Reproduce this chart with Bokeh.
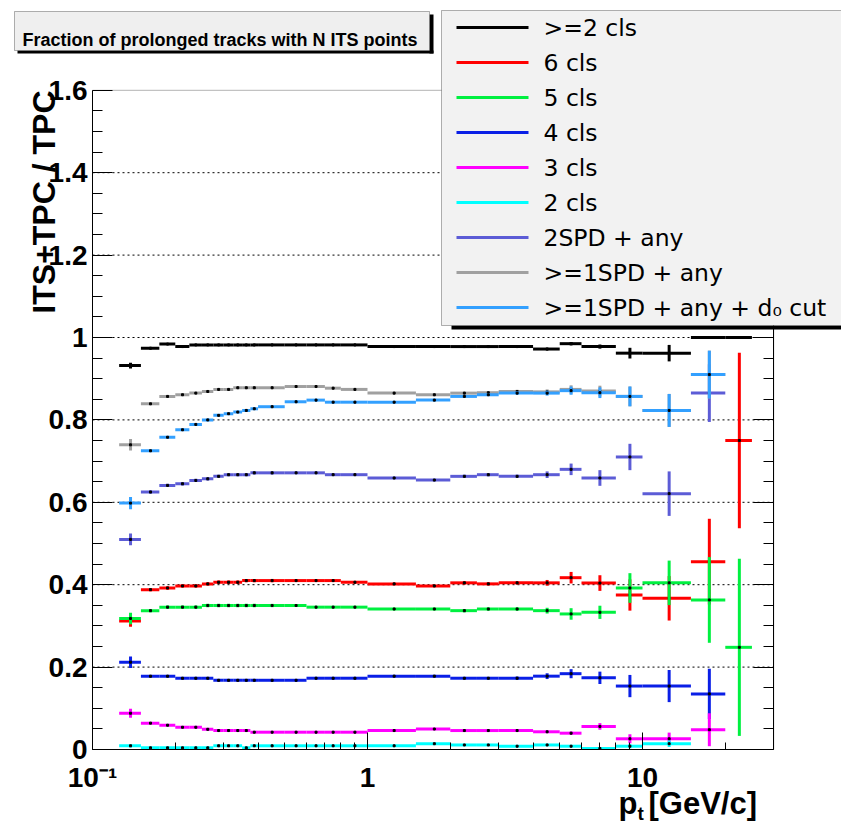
import math
from bokeh.plotting import figure
from bokeh.models import (Range1d, FixedTicker, LinearAxis, LogAxis, ColumnDataSource,
                          BoxAnnotation, Label, Grid, CustomJSTickFormatter)
from bokeh.embed import file_html
from bokeh.resources import INLINE

# ---------------- data ----------------
edges = [0.125, 0.15, 0.175, 0.2, 0.225, 0.25, 0.275, 0.3, 0.325, 0.35, 0.375, 0.4,
         0.5, 0.6, 0.7, 0.8, 1.0, 1.5, 2.0, 2.5, 3.0, 4.0, 5.0, 6.0, 8.0, 10.0, 15.0, 20.0, 25.0]

series_names = [">=2 cls", "6 cls", "5 cls", "4 cls", "3 cls", "2 cls",
                "2SPD + any", ">=1SPD + any", ">=1SPD + any + d\u2080 cut"]
series_colors = ["#000000", "#ff0000", "#00f040", "#0a1fe6", "#ff00ff", "#00ffff",
                 "#5c5cd6", "#a0a0a0", "#33a0ff"]

ge2_val = [0.932, 0.974, 0.984, 0.978, 0.982, 0.982, 0.982, 0.982, 0.982, 0.982, 0.982, 0.982,
           0.982, 0.982, 0.982, 0.982, 0.978, 0.978, 0.978, 0.978, 0.978, 0.972, 0.985, 0.978,
           0.962, 0.962, 1.0, 1.0]
ge2_err = [0.007, 0.002, 0.002, 0.002, 0.002, 0.002, 0.002, 0.002, 0.002, 0.002, 0.002, 0.002,
           0.002, 0.002, 0.002, 0.002, 0.002, 0.002, 0.002, 0.002, 0.002, 0.003, 0.004, 0.005,
           0.013, 0.020, 0.0, 0.0]

c6_val = [0.312, 0.388, 0.392, 0.397, 0.397, 0.402, 0.406, 0.406, 0.406, 0.410, 0.410, 0.410,
          0.410, 0.410, 0.410, 0.406, 0.402, 0.397, 0.4045, 0.402, 0.4045, 0.4045, 0.417, 0.404,
          0.375, 0.367, 0.456, 0.750]
c6_err = [0.014, 0.004, 0.004, 0.004, 0.004, 0.004, 0.004, 0.004, 0.004, 0.004, 0.004, 0.004,
          0.003, 0.003, 0.003, 0.003, 0.003, 0.003, 0.004, 0.004, 0.004, 0.007, 0.014, 0.019,
          0.038, 0.054, 0.104, 0.213]

c5_val = [0.318, 0.337, 0.3455, 0.3455, 0.3455, 0.3495, 0.3495, 0.3495, 0.3495, 0.3495, 0.3495, 0.3495,
          0.3495, 0.3455, 0.3455, 0.3455, 0.341, 0.341, 0.337, 0.341, 0.341, 0.337, 0.329, 0.333,
          0.392, 0.4045, 0.363, 0.248]
c5_err = [0.014, 0.004, 0.004, 0.004, 0.004, 0.004, 0.004, 0.004, 0.004, 0.004, 0.004, 0.004,
          0.003, 0.003, 0.003, 0.003, 0.003, 0.003, 0.004, 0.004, 0.004, 0.007, 0.014, 0.016,
          0.036, 0.054, 0.104, 0.215]

c4_val = [0.212, 0.178, 0.178, 0.173, 0.173, 0.173, 0.168, 0.168, 0.168, 0.168, 0.168, 0.168,
          0.168, 0.173, 0.173, 0.173, 0.178, 0.178, 0.173, 0.173, 0.173, 0.178, 0.184, 0.174,
          0.154, 0.154, 0.135, None]
c4_err = [0.014, 0.003, 0.003, 0.003, 0.003, 0.003, 0.003, 0.003, 0.003, 0.003, 0.003, 0.003,
          0.003, 0.003, 0.003, 0.003, 0.003, 0.003, 0.003, 0.003, 0.004, 0.007, 0.011, 0.015,
          0.027, 0.039, 0.061, None]

c3_val = [0.088, 0.064, 0.059, 0.054, 0.054, 0.049, 0.046, 0.046, 0.046, 0.046, 0.042, 0.042,
          0.042, 0.042, 0.042, 0.042, 0.046, 0.0497, 0.046, 0.046, 0.046, 0.043, 0.0396, 0.056,
          0.026, 0.026, 0.048, None]
c3_err = [0.011, 0.002, 0.002, 0.002, 0.002, 0.002, 0.002, 0.002, 0.002, 0.002, 0.002, 0.002,
          0.002, 0.002, 0.002, 0.002, 0.002, 0.002, 0.002, 0.002, 0.002, 0.003, 0.004, 0.008,
          0.011, 0.015, 0.040, None]

c2_val = [0.009, 0.004, 0.004, 0.004, 0.004, 0.004, 0.009, 0.009, 0.009, 0.004, 0.009, 0.009,
          0.009, 0.009, 0.009, 0.009, 0.009, 0.014, 0.011, 0.011, 0.008, 0.011, 0.008, 0.0025,
          0.008, 0.014, None, None]
c2_err = [0.004, 0.001, 0.001, 0.001, 0.001, 0.001, 0.001, 0.001, 0.001, 0.001, 0.001, 0.001,
          0.001, 0.001, 0.001, 0.001, 0.001, 0.001, 0.001, 0.001, 0.001, 0.002, 0.003, 0.002,
          0.005, 0.008, None, None]

spd2_val = [0.510, 0.625, 0.641, 0.645, 0.653, 0.657, 0.663, 0.667, 0.667, 0.667, 0.6715, 0.6715,
            0.6715, 0.6715, 0.667, 0.667, 0.659, 0.654, 0.663, 0.667, 0.663, 0.667, 0.680, 0.659,
            0.710, 0.621, 0.865, None]
spd2_err = [0.014, 0.004, 0.004, 0.004, 0.004, 0.004, 0.004, 0.004, 0.004, 0.004, 0.004, 0.004,
            0.003, 0.003, 0.003, 0.003, 0.003, 0.003, 0.004, 0.004, 0.004, 0.008, 0.014, 0.019,
            0.032, 0.054, 0.070, None]

spd1_val = [0.7395, 0.839, 0.857, 0.861, 0.865, 0.869, 0.874, 0.874, 0.878, 0.878, 0.878, 0.878,
            0.881, 0.881, 0.877, 0.874, 0.865, 0.861, 0.865, 0.866, 0.869, 0.868, 0.874, 0.870,
            0.857, 0.823, 0.910, None]
spd1_err = [0.014, 0.003, 0.003, 0.003, 0.003, 0.003, 0.003, 0.003, 0.003, 0.003, 0.003, 0.003,
            0.003, 0.003, 0.003, 0.003, 0.003, 0.003, 0.003, 0.003, 0.004, 0.006, 0.010, 0.013,
            0.024, 0.040, 0.058, None]

d0_val = [0.598, 0.725, 0.758, 0.776, 0.789, 0.800, 0.811, 0.815, 0.819, 0.823, 0.827, 0.832,
          0.844, 0.848, 0.843, 0.843, 0.843, 0.848, 0.857, 0.861, 0.865, 0.865, 0.871, 0.866,
          0.857, 0.823, 0.910, None]
d0_err = [0.015, 0.003, 0.003, 0.003, 0.003, 0.003, 0.003, 0.003, 0.003, 0.003, 0.003, 0.003,
          0.003, 0.003, 0.003, 0.003, 0.003, 0.003, 0.003, 0.003, 0.004, 0.006, 0.010, 0.013,
          0.024, 0.040, 0.058, None]

series_vals = [ge2_val, c6_val, c5_val, c4_val, c3_val, c2_val, spd2_val, spd1_val, d0_val]
series_errs = [ge2_err, c6_err, c5_err, c4_err, c3_err, c2_err, spd2_err, spd1_err, d0_err]

x_lim = (0.1, 30)
y_lim = (0, 1.6)
x_major = [0.1, 1, 10]
x_major_labels = ["10\u207b\u00b9", "1", "10"]
x_minor = [0.2, 0.3, 0.4, 0.5, 0.6, 0.7, 0.8, 0.9, 2, 3, 4, 5, 6, 7, 8, 9, 20]
y_major = [0, 0.2, 0.4, 0.6, 0.8, 1, 1.2, 1.4, 1.6]
y_major_labels = ["0", "0.2", "0.4", "0.6", "0.8", "1", "1.2", "1.4", "1.6"]
y_minor = [0.05, 0.1, 0.15, 0.25, 0.3, 0.35, 0.45, 0.5, 0.55, 0.65, 0.7, 0.75, 0.85, 0.9, 0.95,
           1.05, 1.1, 1.15, 1.25, 1.3, 1.35, 1.45, 1.5, 1.55]
y_grid = [0.2, 0.4, 0.6, 0.8, 1, 1.2, 1.4]

title_text = "Fraction of prolonged tracks with N ITS points"
y_title = "ITS+TPC / TPC"


# ---------------- layout helpers (canvas pixel -> data) ----------------
# ROOT pad frame: x 0.1..30 spans px 92..773, y 0..1.6 spans px 749..90
def X(px):
    return 10 ** ((px - 92) / 275.0 - 1)


def Y(py):
    return (749 - py) / 412.0


W, H = 841, 824
p = figure(width=W, height=H, x_axis_type="log", x_axis_location=None, y_axis_location=None,
           x_range=Range1d(X(0), X(W)), y_range=Range1d(Y(H), Y(0)),
           output_backend="svg", toolbar_location=None,
           min_border_left=0, min_border_right=0, min_border_top=0, min_border_bottom=0)
p.background_fill_color = "white"
p.border_fill_color = "white"
p.outline_line_color = None
for r in list(p.center):
    if isinstance(r, Grid):
        r.visible = False

LBL_FONT = "Liberation Sans"

# ---------------- axes (ROOT-style, ticks inside) ----------------
xa = LogAxis(fixed_location=y_lim[0], bounds=x_lim,
             ticker=FixedTicker(ticks=x_major, minor_ticks=x_minor))
xa.major_label_overrides = dict(zip(x_major, x_major_labels))
xa.major_tick_in = 17
xa.major_tick_out = 0
xa.minor_tick_in = 7
xa.minor_tick_out = 0
xa.axis_line_color = "black"
xa.major_label_text_font = LBL_FONT
xa.major_label_text_font_style = "bold"
xa.major_label_text_font_size = "28px"
xa.major_label_text_color = "black"
xa.major_label_standoff = 12
p.add_layout(xa, "below")

ya = LinearAxis(fixed_location=x_lim[0], bounds=y_lim,
                ticker=FixedTicker(ticks=y_major, minor_ticks=y_minor))
ya.major_label_overrides = dict(zip(y_major, y_major_labels))
ya.major_tick_in = 20
ya.major_tick_out = 0
ya.minor_tick_in = 10
ya.minor_tick_out = 0
ya.axis_line_color = "black"
ya.major_label_text_font = LBL_FONT
ya.major_label_text_font_style = "bold"
ya.major_label_text_font_size = "28px"
ya.major_label_text_color = "black"
ya.major_label_standoff = 5
p.add_layout(ya, "left")

ra = LinearAxis(fixed_location=x_lim[1], bounds=y_lim,
                ticker=FixedTicker(ticks=y_major, minor_ticks=y_minor),
                formatter=CustomJSTickFormatter(code="return ''"),
                major_tick_in=20, major_tick_out=0, minor_tick_in=10, minor_tick_out=0,
                axis_line_color="black")
p.add_layout(ra, "right")

# dotted horizontal grid inside the frame
gsrc = ColumnDataSource(dict(x0=[x_lim[0]] * len(y_grid), x1=[x_lim[1]] * len(y_grid), y=y_grid))
p.segment(x0="x0", y0="y", x1="x1", y1="y", source=gsrc, line_color="black",
          line_width=1, line_dash="2 3")

# ---------------- data marks ----------------
for vals, errs, col in zip(series_vals, series_errs, series_colors):
    xl, xr, xc, yy, ylo, yhi = [], [], [], [], [], []
    for i, v in enumerate(vals):
        if v is None:
            continue
        lo, hi = edges[i], edges[i + 1]
        e = errs[i] or 0.0
        xl.append(lo); xr.append(hi); xc.append(0.5 * (lo + hi))
        yy.append(v); ylo.append(v - e); yhi.append(v + e)
    src = ColumnDataSource(dict(xl=xl, xr=xr, xc=xc, y=yy, ylo=ylo, yhi=yhi))
    p.segment(x0="xl", y0="y", x1="xr", y1="y", source=src, line_color=col, line_width=3)
    p.segment(x0="xc", y0="ylo", x1="xc", y1="yhi", source=src, line_color=col, line_width=3)
    p.scatter(x="xc", y="y", source=src, marker="square", size=2, color="black")

# frame outline
p.add_layout(BoxAnnotation(left=x_lim[0], right=x_lim[1], bottom=y_lim[0], top=y_lim[1],
                           fill_alpha=0, line_color="black", line_width=1))

# ---------------- title box ----------------
p.add_layout(BoxAnnotation(left=X(429), right=X(433), top=Y(14), bottom=Y(53),
                           fill_color="black", fill_alpha=1, line_color=None))
p.add_layout(BoxAnnotation(left=X(17), right=X(433), top=Y(50), bottom=Y(53),
                           fill_color="black", fill_alpha=1, line_color=None))
p.add_layout(BoxAnnotation(left=X(14), right=X(429), top=Y(11), bottom=Y(50),
                           fill_color="#efefef", fill_alpha=1, line_color="black", line_width=1))
p.add_layout(Label(x=X(22), y=Y(39.5), text=title_text, text_font=LBL_FONT,
                   text_font_style="bold", text_font_size="18px", text_color="black",
                   text_baseline="alphabetic", text_align="left"))

# ---------------- legend box ----------------
p.add_layout(BoxAnnotation(left=X(451), right=X(860), top=Y(325), bottom=Y(329),
                           fill_color="black", fill_alpha=1, line_color=None))
p.add_layout(BoxAnnotation(left=X(441), right=X(860), top=Y(10), bottom=Y(325),
                           fill_color="#f2f2f2", fill_alpha=1, line_color="black", line_width=1))
for i, (name, col) in enumerate(zip(series_names, series_colors)):
    yrow = 27 + 35 * i
    p.add_layout(BoxAnnotation(left=X(456), right=X(528), top=Y(yrow - 1.5), bottom=Y(yrow + 1.5),
                               fill_color=col, fill_alpha=1, line_color=None))
    p.add_layout(Label(x=X(543), y=Y(yrow), text=name, text_font="DejaVu Sans",
                       text_font_size="23.5px", text_color="black", text_baseline="middle",
                       text_align="left"))

# ---------------- axis titles ----------------
p.add_layout(Label(x=X(43), y=Y(90), text=y_title, angle=math.pi / 2, text_font=LBL_FONT,
                   text_font_style="bold", text_font_size="32px", text_color="black",
                   text_align="right", text_baseline="alphabetic"))
p.add_layout(Label(x=X(618), y=Y(803), text="p", text_font=LBL_FONT, text_font_style="bold",
                   text_font_size="31px", text_color="black", text_align="left",
                   text_baseline="alphabetic"))
p.add_layout(Label(x=X(637), y=Y(813), text="t", text_font=LBL_FONT, text_font_style="bold",
                   text_font_size="19px", text_color="black", text_align="left",
                   text_baseline="alphabetic"))
p.add_layout(Label(x=X(648), y=Y(803), text="[GeV/c]", text_font=LBL_FONT, text_font_style="bold",
                   text_font_size="31px", text_color="black", text_align="left",
                   text_baseline="alphabetic"))

open("out.html", "w").write(file_html(p, INLINE))
